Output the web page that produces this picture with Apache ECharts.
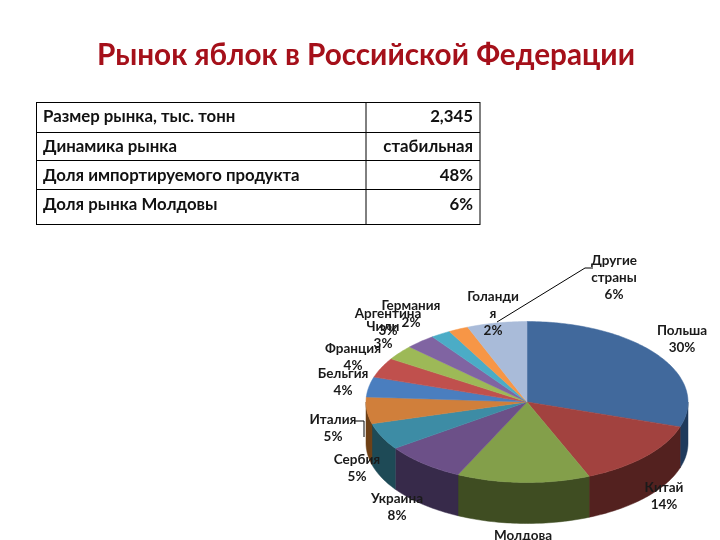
<!DOCTYPE html>
<html><head><meta charset="utf-8">
<style>html,body{margin:0;padding:0;background:#fff}#c{width:720px;height:540px}</style>
<script src="https://cdn.jsdelivr.net/npm/echarts@6/dist/echarts.min.js"></script>
</head><body><div id="c"></div>
<script>
const titleText = 'Рынок яблок в Российской Федерации';
const rowLabels = ['Размер рынка, тыс. тонн','Динамика рынка','Доля импортируемого продукта','Доля рынка Молдовы'];
const rowValues = ['2,345','стабильная','48%','6%'];
const categories = ['Польша','Китай','Молдова','Украина','Сербия','Италия','Бельгия','Франция','Чили','Аргентина','Германия','Голанди\nя','Другие\nстраны'];
const shares = [30,13.7,13.35,8.2,5.4,5.35,4,4,3,3,2,2,6];
const topColors = ['#41699C','#A2423F','#839F4A','#6C5088','#3D8CA5','#D07F3B','#4A7EBF','#C0504D','#9DB957','#8064A2','#4BACC6','#F79646','#A9BBD9'];
const sideColors = ['#1F3A5C','#53211F','#3F4D22','#372A4A','#1E4A56','#6E4016','#254060','#602826','#4E5C2B','#403251','#255663','#7C4B23','#555D6C'];
const labelCenters = [[682,339],[664,496],[523,544],[397,507],[357,468],[333,428],[343,382],[353,357],[383,335],[388,322],[411,314],[493,314],[614,278]];
const geom = {cx:527, cy:402, rx:161, ry:80.5, depth:41};
const tableRows = [102,132,160,189,224];
const tableRowCenters = [117,147,176,205];
const tableX = {left:36.5, mid:366, right:480};
const FONT = 'Lato, "Open Sans", sans-serif';

let acc = 0;
const total = shares.reduce((a,b)=>a+b,0);
const sliceData = shares.map((v,i)=>{const s=acc; acc+=v; return {name:categories[i], value:[s,acc,v]};});
const pt = (t,dy=0)=>[geom.cx+geom.rx*Math.sin(t), geom.cy-geom.ry*Math.cos(t)+dy];
function arc(a,b,dy){const n=Math.max(2,Math.ceil((b-a)/0.02));const o=[];for(let i=0;i<=n;i++)o.push(pt(a+(b-a)*i/n,dy));return o;}
function renderSlice(params,api){
  const a=api.value(0)/total*2*Math.PI, b=api.value(1)/total*2*Math.PI, kids=[];
  const f0=Math.max(a,Math.PI/2), f1=Math.min(b,Math.PI*1.5);
  if(f1>f0){
    const up=arc(f0,f1,0), dn=arc(f0,f1,geom.depth).reverse();
    kids.push({type:'polygon',shape:{points:up.concat(dn)},style:{fill:sideColors[params.dataIndex],stroke:sideColors[params.dataIndex],lineWidth:0.5}});
  }
  kids.push({type:'polygon',z2:5,shape:{points:[[geom.cx,geom.cy]].concat(arc(a,b,0))},style:{fill:topColors[params.dataIndex],stroke:topColors[params.dataIndex],lineWidth:0.5}});
  return {type:'group',children:kids};
}
const g=[];
const line=(x1,y1,x2,y2,w)=>({type:'line',shape:{x1,y1,x2,y2},style:{stroke:'#000',lineWidth:w||1}});
tableRows.forEach(y=>g.push(line(tableX.left,y+.5,tableX.right,y+.5)));
[tableX.left,tableX.mid,tableX.right].forEach(x=>g.push(line(x,tableRows[0],x,tableRows[4]+1)));
rowLabels.forEach((t,i)=>{
  g.push({type:'text',x:43,y:tableRowCenters[i],style:{text:t,font:'bold 16.8px '+FONT,fill:'#111',textAlign:'left',textVerticalAlign:'middle'}});
  g.push({type:'text',x:473,y:tableRowCenters[i],style:{text:rowValues[i],font:'bold 16.8px '+FONT,fill:'#111',textAlign:'right',textVerticalAlign:'middle'}});
});
g.push({type:'polyline',z:10,shape:{points:[[497,322],[585,268],[593,268]]},style:{stroke:'#000',lineWidth:1,fill:'none'}});
g.push({type:'polyline',z:10,shape:{points:[[355,421],[364,421],[364,437]]},style:{stroke:'#000',lineWidth:1,fill:'none'}});
categories.forEach((c,i)=>{
  g.push({type:'text',z:11,x:labelCenters[i][0],y:labelCenters[i][1],style:{text:c+'\n'+Math.round(shares[i])+'%',font:'bold 13.5px '+FONT,lineHeight:17,fill:'#1a1a1a',textAlign:'center',textVerticalAlign:'middle'}});
});
g.push({type:'text',x:366,y:55,style:{text:titleText,font:'bold 29.7px '+FONT,fill:'#A5101A',textAlign:'center',textVerticalAlign:'middle'}});
const chart=echarts.init(document.getElementById('c'),null,{renderer:'canvas'});
chart.setOption({animation:false,backgroundColor:'#fff',
  series:[{type:'custom',coordinateSystem:'none',renderItem:renderSlice,data:sliceData,silent:true}],
  graphic:{elements:g}});
</script></body></html>
